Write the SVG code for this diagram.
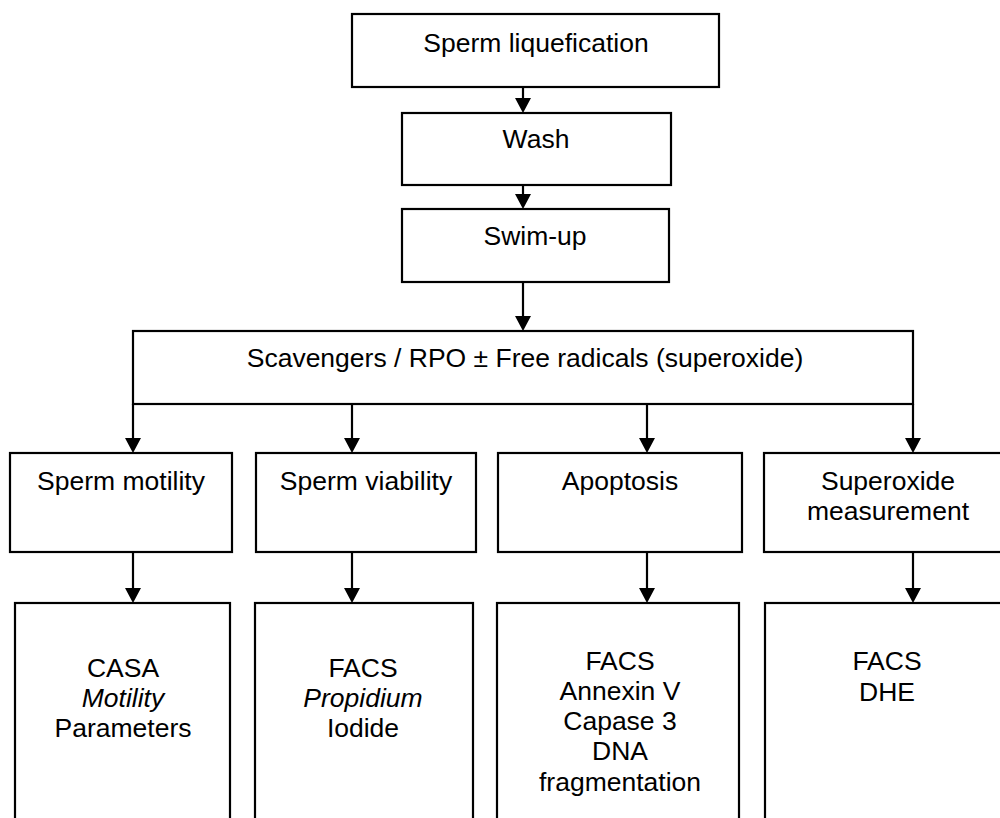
<svg xmlns="http://www.w3.org/2000/svg" width="1000" height="818" viewBox="0 0 1000 818">
<style>
.box{fill:#fff;stroke:#000;stroke-width:2.2}
.t{font-family:"Liberation Sans",Arial,sans-serif;font-size:26.5px;fill:#000;text-anchor:middle}
.i{font-style:italic}
.c{stroke:#000;stroke-width:2.2;fill:none}
.ah{fill:#000}
</style>
<rect width="1000" height="818" fill="#fff"/>
<g id="connectors">
<line class="c" x1="523" y1="87" x2="523" y2="100"/>
<polygon class="ah" points="515,98 531,98 523,113"/>
<line class="c" x1="523" y1="185" x2="523" y2="196"/>
<polygon class="ah" points="515,194 531,194 523,209"/>
<line class="c" x1="523" y1="282" x2="523" y2="318"/>
<polygon class="ah" points="515,316 531,316 523,331"/>
<line class="c" x1="133" y1="404" x2="133" y2="440"/>
<line class="c" x1="352" y1="404" x2="352" y2="440"/>
<line class="c" x1="647" y1="404" x2="647" y2="440"/>
<line class="c" x1="913" y1="404" x2="913" y2="440"/>
<polygon class="ah" points="125,438 141,438 133,453"/>
<polygon class="ah" points="344,438 360,438 352,453"/>
<polygon class="ah" points="639,438 655,438 647,453"/>
<polygon class="ah" points="905,438 921,438 913,453"/>
<line class="c" x1="133" y1="552" x2="133" y2="590"/>
<line class="c" x1="352" y1="552" x2="352" y2="590"/>
<line class="c" x1="647" y1="552" x2="647" y2="590"/>
<line class="c" x1="913" y1="552" x2="913" y2="590"/>
<polygon class="ah" points="125,588 141,588 133,603"/>
<polygon class="ah" points="344,588 360,588 352,603"/>
<polygon class="ah" points="639,588 655,588 647,603"/>
<polygon class="ah" points="905,588 921,588 913,603"/>
</g>
<g id="n-liquefication">
<rect class="box" x="352" y="14" width="367" height="73"/>
<text class="t" x="536" y="52">Sperm liquefication</text>
</g>
<g id="n-wash">
<rect class="box" x="402" y="113" width="269" height="72"/>
<text class="t" x="536" y="148">Wash</text>
</g>
<g id="n-swimup">
<rect class="box" x="402" y="209" width="267" height="73"/>
<text class="t" x="535" y="245">Swim-up</text>
</g>
<g id="n-scavengers">
<rect class="box" x="133" y="331" width="780" height="73"/>
<text class="t" x="525" y="367">Scavengers / RPO ± Free radicals (superoxide)</text>
</g>
<g id="n-motility">
<rect class="box" x="10" y="453" width="222" height="99"/>
<text class="t" x="121" y="490">Sperm motility</text>
</g>
<g id="n-viability">
<rect class="box" x="256" y="453" width="220" height="99"/>
<text class="t" x="366" y="490">Sperm viability</text>
</g>
<g id="n-apoptosis">
<rect class="box" x="498" y="453" width="244" height="99"/>
<text class="t" x="620" y="490">Apoptosis</text>
</g>
<g id="n-superoxide">
<rect class="box" x="764" y="453" width="250" height="99"/>
<text class="t" x="888" y="490">Superoxide</text>
<text class="t" x="888" y="520">measurement</text>
</g>
<g id="n-casa">
<rect class="box" x="15" y="603" width="215" height="230"/>
<text class="t" x="123" y="677">CASA</text>
<text class="t i" x="123" y="707">Motility</text>
<text class="t" x="123" y="737">Parameters</text>
</g>
<g id="n-pi">
<rect class="box" x="255" y="603" width="218" height="230"/>
<text class="t" x="363" y="677">FACS</text>
<text class="t i" x="363" y="707">Propidium</text>
<text class="t" x="363" y="737">Iodide</text>
</g>
<g id="n-annexin">
<rect class="box" x="497" y="603" width="242" height="230"/>
<text class="t" x="620" y="670">FACS</text>
<text class="t" x="620" y="700">Annexin V</text>
<text class="t" x="620" y="730">Capase 3</text>
<text class="t" x="620" y="760">DNA</text>
<text class="t" x="620" y="791">fragmentation</text>
</g>
<g id="n-dhe">
<rect class="box" x="765" y="603" width="250" height="230"/>
<text class="t" x="887" y="670">FACS</text>
<text class="t" x="887" y="701">DHE</text>
</g>
</svg>
